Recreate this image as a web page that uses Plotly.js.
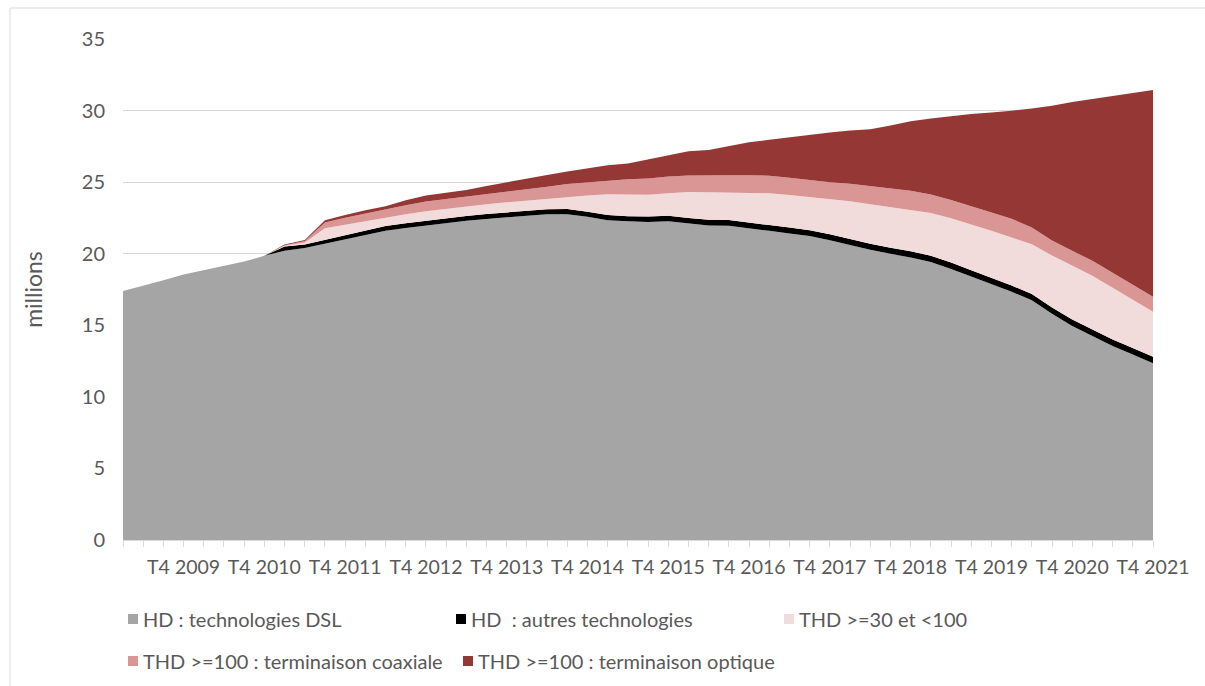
<!DOCTYPE html>
<html>
<head>
<meta charset="utf-8">
<script src="https://cdn.plot.ly/plotly-3.0.1.min.js"></script>
<style>html,body{margin:0;padding:0;background:#fff;}#chart{width:1205px;height:686px;}</style>
</head>
<body>
<div id="chart"></div>
<script>
// Quarters T1 2009 .. T4 2021
const years = [2009,2010,2011,2012,2013,2014,2015,2016,2017,2018,2019,2020,2021];
const quarters = [];
years.forEach(y => { for (let q = 1; q <= 4; q++) quarters.push('T' + q + ' ' + y); });

const seriesNames = [
  'HD : technologies DSL',
  'HD  : autres technologies',
  'THD >=30 et <100',
  'THD >=100 : terminaison coaxiale',
  'THD >=100 : terminaison optique'
];

// millions of accesses
const hdDsl = [17.4,17.75,18.15,18.55,18.85,19.1,19.45,19.85,20.2,20.4,20.7,21.0,21.3,21.6,21.8,21.98,22.13,22.3,22.42,22.55,22.66,22.75,22.76,22.58,22.34,22.26,22.22,22.27,22.1,21.97,21.95,21.8,21.6,21.42,21.23,20.94,20.6,20.28,19.99,19.74,19.42,18.94,18.4,17.89,17.34,16.75,15.8,14.95,14.27,13.55,12.96,12.34];
const hdAutres = [0,0,0,0,0,0,0,0,0.3,0.25,0.28,0.3,0.32,0.34,0.33,0.33,0.34,0.34,0.35,0.35,0.36,0.36,0.36,0.36,0.36,0.36,0.38,0.39,0.4,0.4,0.4,0.4,0.4,0.41,0.41,0.42,0.42,0.42,0.43,0.43,0.44,0.44,0.44,0.44,0.44,0.44,0.45,0.45,0.45,0.45,0.45,0.46];
const thd30 = [0,0,0,0,0,0,0,0,0.05,0.13,0.8,0.72,0.65,0.6,0.62,0.65,0.67,0.69,0.69,0.69,0.7,0.74,0.86,1.12,1.45,1.52,1.52,1.57,1.82,1.93,1.92,2.05,2.22,2.27,2.32,2.45,2.64,2.76,2.85,2.91,2.99,3.1,3.23,3.28,3.35,3.47,3.62,3.78,3.74,3.62,3.36,3.15];
const thdCoax = [0,0,0,0,0,0,0,0,0.05,0.1,0.4,0.5,0.55,0.56,0.63,0.69,0.68,0.65,0.67,0.69,0.75,0.82,0.89,0.93,0.97,1.06,1.13,1.16,1.15,1.2,1.22,1.23,1.23,1.2,1.17,1.19,1.23,1.26,1.26,1.31,1.29,1.28,1.25,1.27,1.31,1.18,1.06,1.03,1.04,1.05,1.05,1.05];
const thdOptique = [0,0,0,0,0,0,0,0,0.05,0.07,0.15,0.18,0.22,0.22,0.35,0.41,0.45,0.47,0.6,0.72,0.79,0.83,0.87,0.97,1.06,1.1,1.35,1.48,1.68,1.74,2.01,2.3,2.51,2.84,3.19,3.46,3.72,3.97,4.43,4.86,5.3,5.85,6.44,6.99,7.54,8.31,9.41,10.39,11.32,12.37,13.42,14.44];

const colors = ['#A5A5A5','#000000','#F2DCDB','#D99694','#953735'];
const values = [hdDsl, hdAutres, thd30, thdCoax, thdOptique];
const legendOf = ['legend','legend','legend','legend2','legend2'];

const font = 'Lato, "Open Sans", sans-serif';
const traces = values.map((v, i) => ({
  type: 'scatter', mode: 'lines', x: quarters, y: v, name: seriesNames[i],
  stackgroup: 'one', line: {width: 0, color: colors[i]}, fillcolor: colors[i],
  legend: legendOf[i], hoverinfo: 'skip'
}));

const tickText = quarters.map(q => q.startsWith('T4') ? q : '');
const plotW = 1030, plotH = 501;

const legendCommon = {
  orientation: 'h', xanchor: 'left', yanchor: 'middle', traceorder: 'normal',
  entrywidthmode: 'pixels', itemwidth: 30,
  font: {family: font, size: 20, color: '#595959'}, bgcolor: 'rgba(0,0,0,0)'
};

const layout = {
  width: 1205, height: 686,
  margin: {l: 123, r: 52, t: 39, b: 146},
  paper_bgcolor: '#ffffff', plot_bgcolor: '#ffffff',
  font: {family: font, size: 19, color: '#595959'},
  showlegend: true,
  xaxis: {
    type: 'category', range: [0, quarters.length - 1],
    tickmode: 'array', tickvals: quarters, ticktext: tickText,
    ticks: 'outside', ticklen: 6, tickcolor: '#D9D9D9', tickwidth: 1,
    ticklabelstandoff: 4,
    showline: true, linecolor: '#D9D9D9', linewidth: 1,
    showgrid: false, tickangle: 0, zeroline: false,
    tickfont: {family: font, size: 19.5, color: '#595959'}
  },
  yaxis: {
    range: [0, 35], dtick: 5, tick0: 0,
    showgrid: true, gridcolor: '#D9D9D9', gridwidth: 1,
    zeroline: false, showline: false, ticks: '',
    ticklabelstandoff: 17,
    tickfont: {family: font, size: 20, color: '#595959'},
    title: {text: 'millions', font: {family: font, size: 23, color: '#595959'}, standoff: 32}
  },
  legend: Object.assign({}, legendCommon, {entrywidth: 283, x: -20 / plotW, y: -(619 - 540) / plotH}),
  legend2: Object.assign({}, legendCommon, {entrywidth: 290, x: -20 / plotW, y: -(655 - 540) / plotH}),
  shapes: [
    {type: 'line', xref: 'paper', yref: 'paper', x0: -113 / plotW, x1: 1.1, y0: 532 / plotH, y1: 532 / plotH, line: {color: '#D9D9D9', width: 1}},
    {type: 'line', xref: 'paper', yref: 'paper', x0: -113 / plotW, x1: -113 / plotW, y0: 532 / plotH, y1: -0.3, line: {color: '#D9D9D9', width: 1}}
  ]
};

Plotly.newPlot('chart', traces, layout, {displayModeBar: false, staticPlot: true}).then(gd => {
  // square legend swatches, as in the original chart
  gd.querySelectorAll('.legendfill path').forEach(p => p.setAttribute('d', 'M25,-5h10v10h-10z'));
  // let the last legend label run past its entry width instead of being cut
  gd.querySelectorAll('.infolayer [clip-path]').forEach(el => {
    if (/legend/i.test(el.getAttribute('clip-path'))) el.removeAttribute('clip-path');
  });
  // second legend row sits a little lower in the original (without shrinking the plot)
  const g2 = gd.querySelector('.infolayer g.legend2');
  if (g2) {
    const m = /translate\(\s*([-\d.]+)[ ,]+([-\d.]+)\s*\)/.exec(g2.getAttribute('transform') || '');
    if (m) g2.setAttribute('transform', 'translate(' + m[1] + ',' + (parseFloat(m[2]) + 6) + ')');
  }
});
</script>
</body>
</html>
